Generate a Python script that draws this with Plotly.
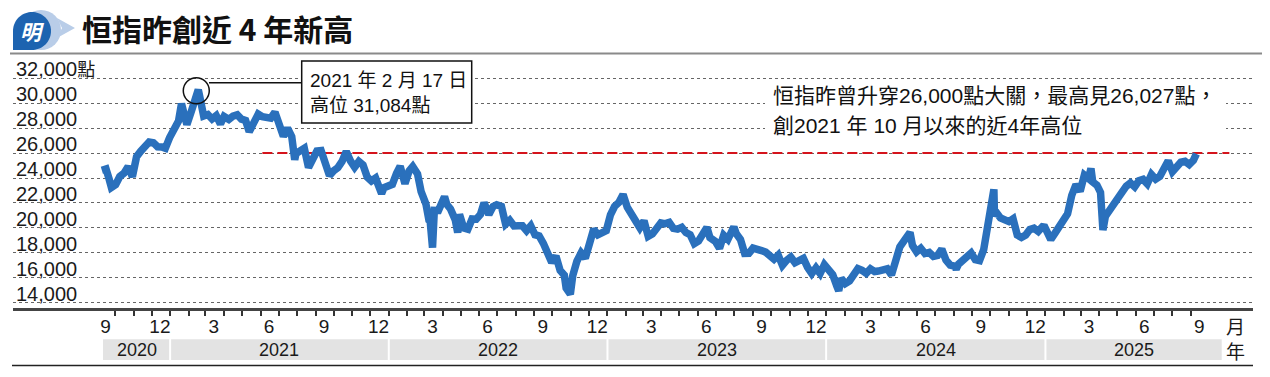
import math
import pandas as pd
import plotly.graph_objects as go

# ---------------- data ----------------
trade_dates = [
    "2020-09-09", "2020-09-16", "2020-09-21", "2020-09-25", "2020-10-02", "2020-10-09", "2020-10-16",
    "2020-10-23", "2020-10-30", "2020-11-06", "2020-11-13", "2020-11-20", "2020-11-27", "2020-12-04",
    "2020-12-11", "2020-12-18", "2020-12-24", "2020-12-31",
    "2021-01-08", "2021-01-15", "2021-01-20", "2021-01-22", "2021-01-29", "2021-02-05", "2021-02-11",
    "2021-02-17", "2021-02-19", "2021-02-26", "2021-03-05", "2021-03-12", "2021-03-19", "2021-03-26",
    "2021-04-01", "2021-04-09", "2021-04-16", "2021-04-23", "2021-04-30", "2021-05-07", "2021-05-13",
    "2021-05-21", "2021-05-28", "2021-06-04", "2021-06-11", "2021-06-18", "2021-06-25", "2021-07-02",
    "2021-07-09", "2021-07-16", "2021-07-23", "2021-07-28", "2021-07-30", "2021-08-06", "2021-08-13",
    "2021-08-20", "2021-08-27", "2021-09-03", "2021-09-10", "2021-09-17", "2021-09-24", "2021-10-01",
    "2021-10-08", "2021-10-15", "2021-10-22", "2021-10-29", "2021-11-05", "2021-11-12", "2021-11-19",
    "2021-11-26", "2021-12-03", "2021-12-10", "2021-12-17", "2021-12-20", "2021-12-24", "2021-12-31",
    "2022-01-07", "2022-01-14", "2022-01-20", "2022-01-28", "2022-02-04", "2022-02-10", "2022-02-18",
    "2022-02-24", "2022-03-04", "2022-03-09", "2022-03-11", "2022-03-15", "2022-03-18", "2022-03-25",
    "2022-04-01", "2022-04-04", "2022-04-08", "2022-04-14", "2022-04-22", "2022-04-26", "2022-04-29",
    "2022-05-06", "2022-05-13", "2022-05-20", "2022-05-27", "2022-06-03", "2022-06-09", "2022-06-17",
    "2022-06-24", "2022-06-30", "2022-07-08", "2022-07-15", "2022-07-22", "2022-07-29", "2022-08-05",
    "2022-08-12", "2022-08-19", "2022-08-26", "2022-09-02", "2022-09-09", "2022-09-16", "2022-09-23",
    "2022-09-30", "2022-10-07", "2022-10-14", "2022-10-21", "2022-10-24", "2022-10-31", "2022-11-04",
    "2022-11-11", "2022-11-18", "2022-11-25", "2022-12-02", "2022-12-09", "2022-12-16", "2022-12-23",
    "2022-12-30",
    "2023-01-06", "2023-01-13", "2023-01-20", "2023-01-27", "2023-02-03", "2023-02-10", "2023-02-17",
    "2023-02-24", "2023-03-03", "2023-03-10", "2023-03-17", "2023-03-24", "2023-03-31", "2023-04-06",
    "2023-04-14", "2023-04-21", "2023-04-28", "2023-05-05", "2023-05-12", "2023-05-19", "2023-05-26",
    "2023-06-02", "2023-06-09", "2023-06-16", "2023-06-21", "2023-06-30", "2023-07-07", "2023-07-14",
    "2023-07-21", "2023-07-28", "2023-07-31", "2023-08-04", "2023-08-11", "2023-08-18", "2023-08-25",
    "2023-09-01", "2023-09-08", "2023-09-15", "2023-09-22", "2023-09-29", "2023-10-06", "2023-10-13",
    "2023-10-20", "2023-10-27", "2023-11-03", "2023-11-10", "2023-11-17", "2023-11-24", "2023-12-01",
    "2023-12-08", "2023-12-15", "2023-12-22", "2023-12-29",
    "2024-01-05", "2024-01-12", "2024-01-19", "2024-01-22", "2024-01-26", "2024-02-02", "2024-02-09",
    "2024-02-16", "2024-02-23", "2024-03-01", "2024-03-08", "2024-03-15", "2024-03-22", "2024-03-28",
    "2024-04-05", "2024-04-12", "2024-04-19", "2024-04-26", "2024-05-03", "2024-05-10", "2024-05-17",
    "2024-05-20", "2024-05-24", "2024-05-31", "2024-06-07", "2024-06-14", "2024-06-21", "2024-06-28",
    "2024-07-05", "2024-07-12", "2024-07-19", "2024-07-26", "2024-08-02", "2024-08-05", "2024-08-09",
    "2024-08-16", "2024-08-23", "2024-08-30", "2024-09-06", "2024-09-13", "2024-09-20", "2024-09-27",
    "2024-10-04", "2024-10-07", "2024-10-08", "2024-10-11", "2024-10-18", "2024-10-25", "2024-11-01",
    "2024-11-08", "2024-11-15", "2024-11-22", "2024-11-29", "2024-12-06", "2024-12-13", "2024-12-20",
    "2024-12-27", "2024-12-31",
    "2025-01-03", "2025-01-10", "2025-01-17", "2025-01-24", "2025-01-28", "2025-02-07", "2025-02-14",
    "2025-02-21", "2025-02-28", "2025-03-07", "2025-03-14", "2025-03-18", "2025-03-21", "2025-03-28",
    "2025-04-03", "2025-04-07", "2025-04-11", "2025-04-17", "2025-04-25", "2025-05-02", "2025-05-09",
    "2025-05-16", "2025-05-23", "2025-05-30", "2025-06-06", "2025-06-13", "2025-06-20", "2025-06-27",
    "2025-07-04", "2025-07-11", "2025-07-18", "2025-07-25", "2025-08-01", "2025-08-08", "2025-08-15",
    "2025-08-22", "2025-08-29", "2025-09-05", "2025-09-10",
]
hsi_close = [
    24624, 24725, 23950, 23235, 23459, 24119, 24386,
    24918, 24107, 25712, 26157, 26451, 26894, 26835,
    26505, 26498, 26387, 27231,
    27878, 28573, 29962, 29447, 28284, 29289, 30173,
    31084, 30644, 28980, 29098, 28739, 29014, 28336,
    28939, 28698, 28969, 29078, 28725, 28610, 27719,
    28458, 29124, 28918, 28842, 28801, 29288, 28310,
    27344, 28004, 27321, 25473, 25961, 26179, 26391,
    24849, 25407, 26163, 26205, 24920, 24192, 24575,
    24838, 25331, 26126, 25377, 24870, 25327, 25049,
    24080, 23766, 23996, 23193, 22745, 23223, 23397,
    23493, 24383, 24952, 23550, 24573, 24924, 24328,
    22902, 21906, 20627, 20554, 18415, 21412, 21405,
    22039, 22502, 21872, 21518, 20638, 19617, 21089,
    20001, 19898, 20717, 20697, 21082, 22014, 21075,
    21719, 21860, 21725, 20297, 20609, 20156, 20175,
    20175, 19773, 20170, 19452, 19362, 18762, 17933,
    17223, 17740, 16588, 16211, 15180, 14687, 16161,
    17326, 17993, 17573, 18675, 19901, 19450, 19593,
    19781,
    21052, 21738, 22044, 22689, 21660, 21190, 20719,
    20010, 20567, 19320, 19518, 19916, 20400, 20331,
    20438, 19959, 19895, 20049, 19628, 19451, 18746,
    18949, 19389, 20040, 19218, 18916, 18366, 19413,
    19075, 19917, 20079, 19539, 19075, 17951, 17956,
    18382, 18202, 18183, 18057, 17810, 17485, 17813,
    16995, 17398, 17664, 17203, 17454, 17560, 16830,
    16334, 16792, 16341, 17047,
    16535, 16244, 15308, 14961, 15952, 15533, 15747,
    16340, 16726, 16589, 16353, 16721, 16499, 16541,
    16724, 16722, 16224, 17651, 18476, 18964, 19553,
    19636, 18609, 18080, 18367, 17942, 18028, 17719,
    17800, 18293, 17417, 17021, 16945, 16698, 17090,
    17430, 17612, 17989, 17444, 17369, 18258, 20632,
    22737, 23099, 20927, 21252, 20804, 20590, 20506,
    20728, 19426, 19230, 19423, 19866, 19971, 19720,
    20090, 20060,
    19760, 19064, 19584, 20066, 20225, 21133, 22620,
    23478, 22941, 24231, 23960, 24771, 23690, 23426,
    22849, 19828, 20915, 21395, 21980, 22505, 22868,
    23345, 23601, 23290, 23792, 23892, 23530, 24284,
    23916, 24140, 24826, 25388, 24507, 24859, 25270,
    25339, 25078, 25418, 25938,
]

peak_date = "2021-02-17"
peak_value = 31084
level_value = 26000
level_start = "2021-06-04"
level_end = "2025-11-04"
y_ticks = [14000, 16000, 18000, 20000, 22000, 24000, 26000, 28000, 30000, 32000]
y_ticktext = [f"{v:,}" for v in y_ticks[:-1]] + ["32,000<span style='font-size:18px'>點</span>"]
label_months = [9, 12, 3, 6]
years = [2020, 2021, 2022, 2023, 2024, 2025]

title_text = "恒指昨創近 4 年新高"
box_line1 = "2021 年 2 月 17 日"
box_line2 = "高位 31,084點"
note_line1 = "恒指昨曾升穿26,000點大關，最高見26,027點，"
note_line2 = "創2021 年 10 月以來的近4年高位"

# ---------------- layout geometry (pixels) ----------------
W, H = 1270, 377
L, R, T, B = 13, 1253, 56, 308


def px(x):
    return (x - L) / (R - L)


def py(y):
    return (B - y) / (B - T)


tick_first = pd.Timestamp("2020-10-01")
tick_last = pd.Timestamp("2025-09-01")
ppd = (1191 - 115) / (tick_last - tick_first).days
x_start = tick_first - pd.Timedelta(days=(115 - L) / ppd)
x_end = tick_last + pd.Timedelta(days=(R - 1191) / ppd)


def date_at(xpix):
    return tick_first + pd.Timedelta(days=(xpix - 115) / ppd)


upp = 18000 / (302.7 - 78.3)
y_lo = 14000 - (B - 302.7) * upp
y_hi = 32000 + (78.3 - T) * upp

BLUE = "#2a70bc"
FONT = "Liberation Sans, Arial, Noto Sans CJK TC, sans-serif"
CJK = "Noto Sans CJK TC, sans-serif"

fig = go.Figure()
fig.add_trace(go.Scatter(
    x=[level_start, level_end], y=[level_value, level_value], mode="lines",
    line=dict(color="#d4141c", width=2, dash="10px,5px"), hoverinfo="skip", showlegend=False))
fig.add_trace(go.Scatter(
    x=trade_dates, y=hsi_close, mode="lines",
    line=dict(color=BLUE, width=7.5), showlegend=False))

# month ticks
month_starts = pd.date_range("2020-10-01", "2025-09-01", freq="MS")
mid_months = [d + pd.Timedelta(days=14) for d in pd.date_range("2020-09-01", "2025-09-01", freq="MS")
              if d.month in label_months]

shapes = []
annotations = []

# year bands
gap_days = 1.0 / ppd
band_first = date_at(103)
band_last = date_at(1221.7)
for yr in years:
    s = max(pd.Timestamp(f"{yr}-01-01"), band_first)
    e = min(pd.Timestamp(f"{yr + 1}-01-01"), band_last)
    x0 = s + pd.Timedelta(days=gap_days if s != band_first else 0)
    x1 = e - pd.Timedelta(days=gap_days if e != band_last else 0)
    shapes.append(dict(type="rect", xref="x", yref="paper", x0=x0, x1=x1,
                       y0=py(360), y1=py(339.3), fillcolor="#e3e3e3", line=dict(width=0), layer="above"))
    annotations.append(dict(xref="x", yref="paper", x=s + (e - s) / 2, y=py(349.6), text=str(yr),
                            showarrow=False, font=dict(family=FONT, size=18, color="#1a1a1a"),
                            xanchor="center", yanchor="middle"))

# bottom rule and title rule
shapes.append(dict(type="line", xref="paper", yref="paper", x0=px(12), x1=px(1253), y0=py(365.5), y1=py(365.5),
                   line=dict(color="#222", width=1.5)))
shapes.append(dict(type="line", xref="paper", yref="paper", x0=px(10), x1=px(1262), y0=py(53.5), y1=py(53.5),
                   line=dict(color="#8a8a8a", width=2)))

# peak circle + connector + box
shapes.append(dict(type="circle", xref="x", yref="y", xsizemode="pixel", ysizemode="pixel",
                   xanchor=peak_date, yanchor=peak_value, x0=-15, x1=11, y0=-14, y1=12,
                   line=dict(color="#111", width=1.5)))
shapes.append(dict(type="line", xref="paper", yref="paper", x0=px(209), x1=px(301.7), y0=py(82.7), y1=py(82.7),
                   line=dict(color="#111", width=1.5), layer="above"))
shapes.append(dict(type="rect", xref="paper", yref="paper", x0=px(301.7), x1=px(471.7), y0=py(123), y1=py(61),
                   line=dict(color="#111", width=1.5), fillcolor="white", layer="above"))
annotations.append(dict(xref="paper", yref="paper", x=px(308), y=py(80), text=box_line1, showarrow=False,
                        xanchor="left", yanchor="middle", font=dict(family=FONT, size=19, color="#111")))
annotations.append(dict(xref="paper", yref="paper", x=px(308), y=py(105), text=box_line2, showarrow=False,
                        xanchor="left", yanchor="middle", font=dict(family=FONT, size=19, color="#111")))

# note text block
shapes.append(dict(type="rect", xref="paper", yref="paper", x0=px(765), x1=px(1226), y0=py(141), y1=py(84),
                   line=dict(width=0), fillcolor="white", layer="above"))
annotations.append(dict(xref="paper", yref="paper", x=px(771), y=py(95), text=note_line1, showarrow=False,
                        xanchor="left", yanchor="middle", font=dict(family=FONT, size=21, color="#111")))
annotations.append(dict(xref="paper", yref="paper", x=px(771), y=py(125), text=note_line2, showarrow=False,
                        xanchor="left", yanchor="middle", font=dict(family=FONT, size=21, color="#111")))

# axis unit labels
annotations.append(dict(xref="paper", yref="paper", x=px(1235), y=py(325), text="月", showarrow=False,
                        xanchor="center", yanchor="middle", font=dict(family=CJK, size=19, color="#1a1a1a")))
annotations.append(dict(xref="paper", yref="paper", x=px(1235), y=py(350), text="年", showarrow=False,
                        xanchor="center", yanchor="middle", font=dict(family=CJK, size=19, color="#1a1a1a")))

# logo
cx, cy, r = 32, 31, 19
pts = []
for i in range(0, 55):
    th = math.radians(180 + 270 * i / 54)
    pts.append((cx + r * math.cos(th), cy + r * math.sin(th)))
pts.append((13, 50))
bubble = "M " + " L ".join(f"{px(a):.5f},{py(b):.5f}" for a, b in pts) + " Z"
shapes.append(dict(type="circle", xref="paper", yref="paper", x0=px(21), x1=px(61), y0=py(50), y1=py(10),
                   fillcolor="#b9cde8", line=dict(width=0), layer="above"))
shapes.append(dict(type="path", xref="paper", yref="paper", path=bubble, fillcolor="#1d63b0",
                   line=dict(width=0), layer="above"))
chev = [(57, 18), (75, 28), (57, 38), (62, 28)]
shapes.append(dict(type="path", xref="paper", yref="paper",
                   path="M " + " L ".join(f"{px(a):.5f},{py(b):.5f}" for a, b in chev) + " Z",
                   fillcolor="#b9cde8", line=dict(width=0), layer="above"))
annotations.append(dict(xref="paper", yref="paper", x=px(32), y=py(31), text="<b><i>明</i></b>", showarrow=False,
                        xanchor="center", yanchor="middle", font=dict(family=CJK, size=21, color="white")))
annotations.append(dict(xref="paper", yref="paper", x=px(80), y=py(28), text=f"<b>{title_text}</b>",
                        showarrow=False, xanchor="left", yanchor="middle",
                        font=dict(family=CJK, size=30, color="#111")))

fig.update_layout(
    width=W, height=H,
    margin=dict(l=L, r=W - R, t=T, b=H - B, pad=0),
    paper_bgcolor="white", plot_bgcolor="rgba(0,0,0,0)",
    shapes=shapes, annotations=annotations, showlegend=False,
    xaxis=dict(
        type="date", range=[x_start, x_end], showgrid=False, zeroline=False,
        showline=True, linecolor="#444", linewidth=2.5,
        tickmode="array", tickvals=mid_months, ticktext=[str(d.month) for d in mid_months],
        ticks="", ticklabelstandoff=-1,
        tickfont=dict(family=FONT, size=19, color="#1a1a1a"),
        minor=dict(tickmode="array", tickvals=list(month_starts), ticks="outside", ticklen=5,
                   tickwidth=1.5, tickcolor="#333", showgrid=False),
    ),
    yaxis=dict(
        range=[y_lo, y_hi], tickmode="array", tickvals=y_ticks, ticktext=y_ticktext,
        showgrid=True, gridcolor="#666", gridwidth=1, griddash="dot", zeroline=False, showline=False,
        ticks="", ticklabelposition="inside", ticklabelstandoff=0, ticklabelshift=-9,
        tickfont=dict(family=FONT, size=20, color="#1a1a1a"),
    ),
)

fig.write_html("out.html", config={"displayModeBar": False},
               post_script="document.body.style.margin='0';")
